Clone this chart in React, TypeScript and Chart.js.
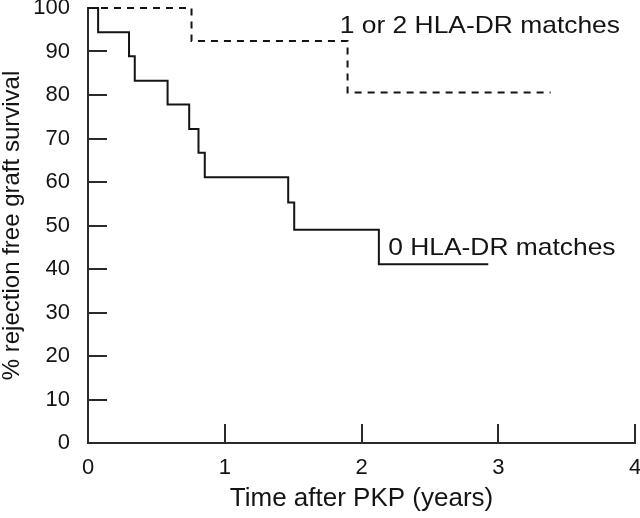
import React, { useEffect, useRef } from "react";
import { Chart, registerables } from "chart.js";

Chart.register(...registerables);

// Kaplan–Meier step data (time in years, % rejection free graft survival)
const zeroMatchTimes = [0, 0.074, 0.3, 0.342, 0.582, 0.74, 0.808, 0.854, 1.464, 1.508, 2.127, 2.927];
const zeroMatchSurvival = [100, 94.4, 88.9, 83.3, 77.8, 72.2, 66.7, 61.1, 55.3, 49.0, 41.1, 41.1];

const someMatchTimes = [0, 0.757, 1.898, 3.383];
const someMatchSurvival = [100, 92.4, 80.6, 80.6];

const seriesLabels = ["0 HLA-DR matches", "1 or 2 HLA-DR matches"];
const xTitle = "Time after PKP (years)";
const yTitle = "% rejection free graft survival";

const INK = "#141414";
const AXIS = "#2a2a2a";
const FONT = '"Liberation Sans", Arial, Helvetica, sans-serif';

const toPoints = (xs: number[], ys: number[]) => xs.map((x, i) => ({ x, y: ys[i] }));

// Inward-pointing tick marks, positioned via the chart's scales
const inwardTicks = {
  id: "inwardTicks",
  afterDraw(chart: any) {
    const { ctx, chartArea, scales } = chart;
    const xs = scales.x;
    const ys = scales.y;
    ctx.save();
    ctx.strokeStyle = AXIS;
    ctx.lineWidth = 2;
    ys.ticks.forEach((t: any) => {
      if (t.value === 0 || t.value === 100) return;
      const py = Math.round(ys.getPixelForValue(t.value));
      ctx.beginPath();
      ctx.moveTo(chartArea.left, py);
      ctx.lineTo(chartArea.left + 19, py);
      ctx.stroke();
    });
    xs.ticks.forEach((t: any) => {
      if (t.value === 0) return;
      const px = Math.round(xs.getPixelForValue(t.value));
      ctx.beginPath();
      ctx.moveTo(px, chartArea.bottom);
      ctx.lineTo(px, chartArea.bottom - 19);
      ctx.stroke();
    });
    ctx.restore();
  },
};

// Curve labels anchored in data coordinates
const curveLabels = {
  id: "curveLabels",
  afterDatasetsDraw(chart: any) {
    const { ctx, scales } = chart;
    const items = [
      { text: seriesLabels[1], x: 1.841, y: 94.3 },
      { text: seriesLabels[0], x: 2.195, y: 43.2 },
    ];
    ctx.save();
    ctx.fillStyle = INK;
    ctx.font = `24px ${FONT}`;
    ctx.textBaseline = "alphabetic";
    ctx.textAlign = "left";
    items.forEach((it) => {
      const px = scales.x.getPixelForValue(it.x);
      const py = scales.y.getPixelForValue(it.y);
      ctx.save();
      ctx.translate(px, py);
      ctx.scale(1.1, 1);
      ctx.fillText(it.text, 0, 0);
      ctx.restore();
    });
    ctx.restore();
  },
};

export default function App() {
  const canvasRef = useRef<HTMLCanvasElement | null>(null);

  useEffect(() => {
    if (!canvasRef.current) return;
    const chart = new Chart(canvasRef.current, {
      type: "line",
      data: {
        datasets: [
          {
            label: seriesLabels[1],
            data: toPoints(someMatchTimes, someMatchSurvival),
            borderColor: INK,
            borderWidth: 2,
            borderDash: [7, 6],
            stepped: "before",
            pointRadius: 0,
            fill: false,
            clip: false as any,
          },
          {
            label: seriesLabels[0],
            data: toPoints(zeroMatchTimes, zeroMatchSurvival),
            borderColor: INK,
            borderWidth: 2,
            stepped: "before",
            pointRadius: 0,
            fill: false,
            clip: false as any,
          },
        ],
      },
      options: {
        responsive: false,
        animation: false,
        layout: { padding: { top: 8, right: 5, left: 0, bottom: 0 } },
        plugins: {
          legend: { display: false },
          tooltip: { enabled: false },
        },
        scales: {
          x: {
            type: "linear",
            min: 0,
            max: 4,
            grid: { display: false },
            border: { display: true, color: AXIS, width: 2 },
            ticks: {
              stepSize: 1,
              color: INK,
              padding: 4,
              font: { family: FONT, size: 22 },
            },
            title: {
              display: true,
              text: xTitle,
              color: INK,
              font: { family: FONT, size: 26, lineHeight: 1 },
              padding: { top: 0, bottom: 6 },
            },
            afterFit: (scale: any) => {
              scale.height = 75;
              scale.paddingLeft = 0;
              scale.paddingRight = 0;
            },
          },
          y: {
            type: "linear",
            min: 0,
            max: 100,
            grid: { display: false },
            border: { display: true, color: AXIS, width: 2 },
            ticks: {
              stepSize: 10,
              color: INK,
              padding: 10,
              font: { family: FONT, size: 22 },
            },
            title: {
              display: true,
              text: yTitle,
              color: INK,
              font: { family: FONT, size: 24, lineHeight: 1 },
              padding: { top: 0, bottom: 0 },
            },
            afterFit: (scale: any) => {
              scale.width = 88;
              scale.paddingTop = 0;
              scale.paddingBottom = 0;
            },
          },
        },
      },
      plugins: [inwardTicks, curveLabels],
    });
    return () => chart.destroy();
  }, []);

  return (
    <div style={{ position: "fixed", left: 0, top: 0, width: 640, height: 518, background: "#fff" }}>
      <canvas ref={canvasRef} width={640} height={518} style={{ display: "block" }} />
    </div>
  );
}
